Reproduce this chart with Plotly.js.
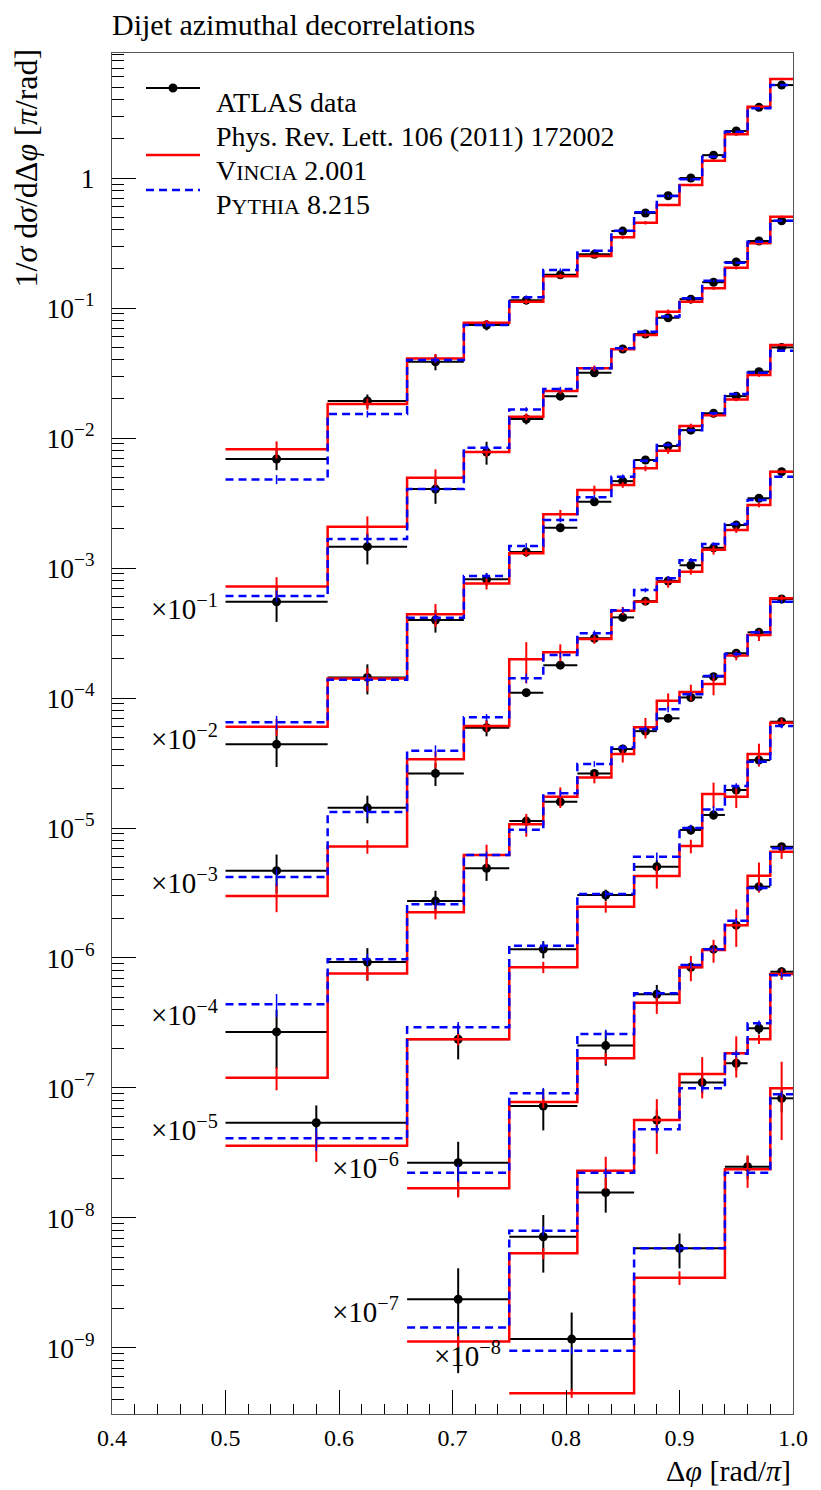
<!DOCTYPE html>
<html>
<head>
<meta charset="utf-8">
<script src="https://cdn.plot.ly/plotly-3.0.1.min.js"></script>
<style>
  html, body { margin: 0; padding: 0; background: #ffffff; }
  #plot { width: 821px; height: 1490px; }
</style>
</head>
<body>
<div id="plot"></div>
<script>
// bin edges in delta phi [rad/pi], one set per pT slice
const edgesFine = [0.5, 0.59, 0.66, 0.71, 0.75, 0.78, 0.81, 0.84, 0.86, 0.88, 0.90, 0.92, 0.94, 0.96, 0.98, 1.0];
const edges6 = [0.5, 0.66, 0.75, 0.81, 0.86, 0.90, 0.92, 0.94, 0.96, 0.98, 1.0];
const edges7 = [0.66, 0.75, 0.81, 0.86, 0.90, 0.92, 0.94, 0.96, 0.98, 1.0];
const edges8 = [0.66, 0.75, 0.81, 0.86, 0.90, 0.94, 0.96, 0.98, 1.0];
const edges9 = [0.75, 0.86, 0.94, 0.98, 1.0];

const scaleFactors = [1, 1e-1, 1e-2, 1e-3, 1e-4, 1e-5, 1e-6, 1e-7, 1e-8];
const scaleLabels = ['', '×10<sup>−1</sup>', '×10<sup>−2</sup>', '×10<sup>−3</sup>', '×10<sup>−4</sup>',
  '×10<sup>−5</sup>', '×10<sup>−6</sup>', '×10<sup>−7</sup>', '×10<sup>−8</sup>'];
const scaleLabelLogY = [0, -3.3, -4.3, -5.41, -6.42, -7.31, -7.6, -8.71, -9.05];

// ATLAS data (unscaled), relative errors
const data1 = [0.0069, 0.0193, 0.0386, 0.074, 0.115, 0.180, 0.259, 0.391, 0.538, 0.731, 1.00, 1.50, 2.30, 3.50, 5.19];
const data2 = [0.0055, 0.0146, 0.0405, 0.078, 0.140, 0.210, 0.318, 0.484, 0.631, 0.842, 1.17, 1.58, 2.26, 3.28, 4.69];
const data3 = [0.0044, 0.0144, 0.0398, 0.082, 0.133, 0.204, 0.323, 0.466, 0.677, 0.868, 1.15, 1.55, 2.10, 3.24, 4.98];
const data4 = [0.0047, 0.0143, 0.0263, 0.059, 0.110, 0.179, 0.288, 0.417, 0.556, 0.794, 1.05, 1.43, 2.14, 3.44, 5.50];
const data5 = [0.0027, 0.0093, 0.0274, 0.049, 0.113, 0.159, 0.263, 0.405, 0.556, 0.698, 1.01, 1.46, 2.21, 3.20, 5.78];
const data6 = [0.0054, 0.0237, 0.117, 0.305, 0.504, 0.966, 1.26, 1.96, 3.33, 6.57];
const data7 = [0.0266, 0.0726, 0.212, 0.526, 0.849, 1.17, 1.79, 3.54, 7.17];
const data8 = [0.0237, 0.0717, 0.157, 0.566, 1.10, 1.55, 2.88, 7.84];
const data9 = [0.117, 0.585, 2.48, 8.33];

const dataErr1 = [0.18, 0.12, 0.14, 0.09, 0.07, 0.06, 0.05, 0.04, 0.04, 0.03, 0.03, 0.03, 0.03, 0.03, 0.03];
const dataErr2 = [0.30, 0.27, 0.23, 0.20, 0.09, 0.07, 0.06, 0.05, 0.04, 0.04, 0.04, 0.03, 0.03, 0.03, 0.03];
const dataErr3 = [0.33, 0.26, 0.20, 0.11, 0.08, 0.07, 0.06, 0.05, 0.05, 0.04, 0.04, 0.04, 0.03, 0.03, 0.03];
const dataErr4 = [0.33, 0.24, 0.20, 0.14, 0.07, 0.06, 0.06, 0.05, 0.05, 0.04, 0.04, 0.04, 0.04, 0.03, 0.03];
const dataErr5 = [0.48, 0.28, 0.20, 0.20, 0.07, 0.06, 0.06, 0.05, 0.05, 0.05, 0.05, 0.05, 0.04, 0.04, 0.04];
const dataErr6 = [0.36, 0.30, 0.15, 0.10, 0.12, 0.08, 0.08, 0.07, 0.06, 0.05];
const dataErr7 = [0.45, 0.35, 0.30, 0.18, 0.10, 0.08, 0.08, 0.06, 0.05];
const dataErr8 = [0.73, 0.47, 0.30, 0.20, 0.18, 0.12, 0.10, 0.08];
const dataErr9 = [0.60, 0.30, 0.20, 0.22];

// Vincia 2.001
const vincia1 = [0.0082, 0.0183, 0.0410, 0.077, 0.112, 0.176, 0.251, 0.350, 0.453, 0.620, 0.883, 1.36, 2.17, 3.54, 5.78];
const vincia2 = [0.0072, 0.0208, 0.0495, 0.078, 0.146, 0.230, 0.344, 0.482, 0.620, 0.937, 1.12, 1.42, 2.04, 3.15, 5.04];
const vincia3 = [0.0060, 0.0141, 0.044, 0.076, 0.130, 0.259, 0.398, 0.436, 0.585, 0.797, 1.24, 1.50, 1.98, 3.05, 5.19];
const vincia4 = [0.0030, 0.0072, 0.0338, 0.061, 0.199, 0.225, 0.284, 0.469, 0.550, 0.784, 0.937, 1.38, 1.96, 3.05, 5.50];
const vincia5 = [0.0012, 0.0076, 0.0225, 0.062, 0.107, 0.174, 0.245, 0.371, 0.595, 0.953, 1.11, 1.28, 2.12, 3.05, 5.85];
const vincia6 = [0.0036, 0.0237, 0.085, 0.248, 0.427, 0.726, 1.83, 1.74, 3.71, 6.45];
const vincia7 = [0.0169, 0.078, 0.169, 0.453, 0.849, 1.15, 1.79, 4.30, 6.57];
const vincia8 = [0.0112, 0.0535, 0.231, 0.566, 1.28, 1.85, 2.37, 7.53];
const vincia9 = [0.0449, 0.347, 2.37, 9.95];

const vinciaErr1 = [0.15, 0.10, 0.08, 0.05, 0.04, 0.04, 0.03, 0.03, 0.03, 0.02, 0.02, 0.02, 0.02, 0.02, 0.02];
const vinciaErr2 = [0.18, 0.20, 0.16, 0.08, 0.06, 0.05, 0.05, 0.04, 0.04, 0.04, 0.03, 0.03, 0.03, 0.02, 0.02];
const vinciaErr3 = [0.15, 0.20, 0.20, 0.10, 0.06, 0.08, 0.08, 0.05, 0.05, 0.05, 0.04, 0.04, 0.03, 0.03, 0.02];
const vinciaErr4 = [0.25, 0.12, 0.15, 0.10, 0.35, 0.15, 0.08, 0.07, 0.06, 0.10, 0.05, 0.08, 0.05, 0.04, 0.03];
const vinciaErr5 = [0.20, 0.12, 0.12, 0.20, 0.20, 0.18, 0.10, 0.14, 0.18, 0.14, 0.14, 0.18, 0.08, 0.10, 0.05];
const vinciaErr6 = [0.25, 0.10, 0.10, 0.10, 0.20, 0.12, 0.22, 0.18, 0.20, 0.08];
const vinciaErr7 = [0.15, 0.10, 0.10, 0.18, 0.22, 0.20, 0.32, 0.26, 0.12];
const vinciaErr8 = [0.10, 0.10, 0.28, 0.45, 0.35, 0.35, 0.08, 0.10];
const vinciaErr9 = [0.08, 0.12, 0.28, 0.60];

// Pythia 8.215
const pythia1 = [0.0048, 0.0153, 0.0398, 0.074, 0.121, 0.196, 0.276, 0.393, 0.545, 0.727, 0.977, 1.46, 2.27, 3.44, 5.19];
const pythia2 = [0.0061, 0.0167, 0.0405, 0.084, 0.166, 0.238, 0.344, 0.490, 0.657, 0.860, 1.19, 1.62, 2.23, 3.24, 4.69];
const pythia3 = [0.0065, 0.0138, 0.0415, 0.087, 0.148, 0.234, 0.350, 0.504, 0.668, 0.883, 1.15, 1.55, 2.18, 3.18, 4.69];
const pythia4 = [0.0042, 0.0133, 0.0393, 0.071, 0.142, 0.214, 0.315, 0.474, 0.677, 0.833, 1.15, 1.53, 2.18, 3.33, 5.04];
const pythia5 = [0.0044, 0.0098, 0.0259, 0.062, 0.097, 0.185, 0.311, 0.417, 0.578, 0.819, 1.07, 1.48, 2.18, 3.20, 5.50];
const pythia6 = [0.0041, 0.0293, 0.124, 0.311, 0.600, 1.00, 1.39, 2.10, 3.24, 6.10];
const pythia7 = [0.0223, 0.091, 0.260, 0.535, 0.883, 1.17, 1.93, 3.45, 6.98];
const pythia8 = [0.0144, 0.0797, 0.223, 0.482, 0.995, 1.83, 3.15, 7.38];
const pythia9 = [0.0953, 0.585, 2.23, 8.94];

const pythiaErr1 = [0.08, 0.06, 0.05, 0.04, 0.03, 0.03, 0.03, 0.03, 0.02, 0.02, 0.02, 0.02, 0.02, 0.02, 0.02];
const pythiaErr2 = [0.10, 0.08, 0.06, 0.05, 0.04, 0.04, 0.03, 0.03, 0.03, 0.03, 0.03, 0.02, 0.02, 0.02, 0.02];
const pythiaErr3 = [0.12, 0.10, 0.06, 0.05, 0.05, 0.04, 0.04, 0.04, 0.03, 0.03, 0.03, 0.03, 0.02, 0.02, 0.02];
const pythiaErr4 = [0.15, 0.10, 0.10, 0.06, 0.08, 0.05, 0.05, 0.05, 0.04, 0.04, 0.04, 0.03, 0.03, 0.03, 0.02];
const pythiaErr5 = [0.20, 0.10, 0.08, 0.06, 0.06, 0.06, 0.05, 0.05, 0.05, 0.05, 0.04, 0.04, 0.04, 0.03, 0.03];
const pythiaErr6 = [0.20, 0.10, 0.08, 0.06, 0.08, 0.06, 0.06, 0.05, 0.05, 0.04];
const pythiaErr7 = [0.15, 0.10, 0.08, 0.07, 0.06, 0.06, 0.05, 0.05, 0.04];
const pythiaErr8 = [0.10, 0.08, 0.08, 0.07, 0.06, 0.06, 0.05, 0.05];
const pythiaErr9 = [0.06, 0.08, 0.06, 0.05];

const slices = [
  { edges: edgesFine, data: data1, dataErr: dataErr1, vincia: vincia1, vinciaErr: vinciaErr1, pythia: pythia1, pythiaErr: pythiaErr1 },
  { edges: edgesFine, data: data2, dataErr: dataErr2, vincia: vincia2, vinciaErr: vinciaErr2, pythia: pythia2, pythiaErr: pythiaErr2 },
  { edges: edgesFine, data: data3, dataErr: dataErr3, vincia: vincia3, vinciaErr: vinciaErr3, pythia: pythia3, pythiaErr: pythiaErr3 },
  { edges: edgesFine, data: data4, dataErr: dataErr4, vincia: vincia4, vinciaErr: vinciaErr4, pythia: pythia4, pythiaErr: pythiaErr4 },
  { edges: edgesFine, data: data5, dataErr: dataErr5, vincia: vincia5, vinciaErr: vinciaErr5, pythia: pythia5, pythiaErr: pythiaErr5 },
  { edges: edges6, data: data6, dataErr: dataErr6, vincia: vincia6, vinciaErr: vinciaErr6, pythia: pythia6, pythiaErr: pythiaErr6 },
  { edges: edges7, data: data7, dataErr: dataErr7, vincia: vincia7, vinciaErr: vinciaErr7, pythia: pythia7, pythiaErr: pythiaErr7 },
  { edges: edges8, data: data8, dataErr: dataErr8, vincia: vincia8, vinciaErr: vinciaErr8, pythia: pythia8, pythiaErr: pythiaErr8 },
  { edges: edges9, data: data9, dataErr: dataErr9, vincia: vincia9, vinciaErr: vinciaErr9, pythia: pythia9, pythiaErr: pythiaErr9 },
];

const serif = 'Liberation Serif, Times New Roman, serif';
const W = 821;
const H = 1490;
const margin = { l: 112, r: 28, t: 53, b: 76 };

function centers(edges) {
  return edges.slice(0, -1).map((e, i) => (e + edges[i + 1]) / 2);
}

function halfWidths(edges) {
  return edges.slice(0, -1).map((e, i) => (edges[i + 1] - e) / 2);
}

function stepTrace(edges, values, line) {
  const y = values.concat([values[values.length - 1]]);
  return { x: edges, y, type: 'scatter', mode: 'lines', line: Object.assign({ shape: 'hv' }, line), hoverinfo: 'skip' };
}

function errTrace(edges, values, rel, color, thickness) {
  return {
    x: centers(edges),
    y: values,
    type: 'scatter',
    mode: 'markers',
    marker: { size: 1, color: 'rgba(0,0,0,0)' },
    error_y: { type: 'data', array: values.map((v, i) => v * rel[i]), width: 0, thickness, color },
    hoverinfo: 'skip',
  };
}

const dataTraces = [];
const vinciaTraces = [];
const pythiaTraces = [];

slices.forEach((s, k) => {
  const f = scaleFactors[k];
  const yd = s.data.map((v) => v * f);
  const yv = s.vincia.map((v) => v * f);
  const yp = s.pythia.map((v) => v * f);

  dataTraces.push({
    x: centers(s.edges),
    y: yd,
    type: 'scatter',
    mode: 'markers',
    marker: { size: 9, color: '#000000' },
    error_x: { type: 'data', array: halfWidths(s.edges), width: 0, thickness: 2, color: '#000000' },
    error_y: { type: 'data', array: yd.map((v, i) => v * s.dataErr[i]), width: 0, thickness: 2, color: '#000000' },
    hoverinfo: 'skip',
  });

  vinciaTraces.push(stepTrace(s.edges, yv, { color: '#ff0000', width: 2.5 }));
  vinciaTraces.push(errTrace(s.edges, yv, s.vinciaErr, '#ff0000', 2));

  pythiaTraces.push(stepTrace(s.edges, yp, { color: '#0000ff', width: 2.5, dash: '8px,5px' }));
  pythiaTraces.push(errTrace(s.edges, yp, s.pythiaErr, '#0000ff', 1.5));
});

// pixel helpers for the hand-drawn legend
const plotW = W - margin.l - margin.r;
const plotH = H - margin.t - margin.b;
const px = (x) => (x - margin.l) / plotW;
const py = (y) => (H - margin.b - y) / plotH;

const annotations = [];

slices.forEach((s, k) => {
  if (!scaleLabels[k]) {
    return;
  }
  annotations.push({
    x: s.edges[0], y: scaleLabelLogY[k], xref: 'x', yref: 'y',
    text: scaleLabels[k], showarrow: false, xanchor: 'right', yanchor: 'middle', xshift: -6,
    font: { family: serif, size: 29, color: '#000000' },
  });
});

const legendText = [
  { text: 'ATLAS data', y: 102 },
  { text: 'Phys. Rev. Lett. 106 (2011) 172002', y: 136 },
  { text: 'V<span style="font-size:22px">INCIA</span> 2.001', y: 170 },
  { text: 'P<span style="font-size:22px">YTHIA</span> 8.215', y: 204 },
];

legendText.forEach((item) => {
  annotations.push({
    x: px(214), y: py(item.y), xref: 'paper', yref: 'paper',
    text: item.text, showarrow: false, xanchor: 'left', yanchor: 'middle',
    font: { family: serif, size: 28, color: '#000000' },
  });
});

annotations.push({
  x: px(26), y: py(47), xref: 'paper', yref: 'paper', textangle: -90,
  text: '1/<i>σ</i> d<i>σ</i>/dΔ<i>φ</i> [<i>π</i>/rad]', showarrow: false,
  xanchor: 'center', yanchor: 'top',
  font: { family: serif, size: 32, color: '#000000' },
});

annotations.push({
  x: 1, y: py(1470), xref: 'paper', yref: 'paper',
  text: 'Δ<i>φ</i> [rad/<i>π</i>]', showarrow: false, xanchor: 'right', yanchor: 'middle',
  font: { family: serif, size: 30, color: '#000000' },
});

const shapes = [
  { type: 'line', xref: 'paper', yref: 'paper', x0: px(146), x1: px(200), y0: py(88), y1: py(88), line: { color: '#000000', width: 2 } },
  { type: 'circle', xref: 'paper', yref: 'paper', xsizemode: 'pixel', ysizemode: 'pixel', xanchor: px(173), yanchor: py(88), x0: -4.5, x1: 4.5, y0: -4.5, y1: 4.5, fillcolor: '#000000', line: { width: 0 } },
  { type: 'line', xref: 'paper', yref: 'paper', x0: px(146), x1: px(200), y0: py(155), y1: py(155), line: { color: '#ff0000', width: 2.5 } },
  { type: 'line', xref: 'paper', yref: 'paper', x0: px(146), x1: px(200), y0: py(190), y1: py(190), line: { color: '#0000ff', width: 2.5, dash: '8px,5px' } },
];

const layout = {
  width: W,
  height: H,
  margin,
  paper_bgcolor: '#ffffff',
  plot_bgcolor: '#ffffff',
  font: { family: serif, size: 24, color: '#000000' },
  showlegend: false,
  title: {
    text: 'Dijet azimuthal decorrelations',
    xref: 'paper', x: 0, xanchor: 'left',
    yref: 'container', y: 1 - 24 / H, yanchor: 'middle',
    font: { family: serif, size: 30, color: '#000000' },
  },
  xaxis: {
    range: [0.4, 1.0],
    tickmode: 'linear', tick0: 0.4, dtick: 0.1, tickformat: '.1f',
    ticks: 'inside', ticklen: 24, tickwidth: 1, tickcolor: '#000000',
    ticklabelstandoff: 2,
    tickfont: { family: serif, size: 24, color: '#000000' },
    minor: { tickmode: 'linear', dtick: 0.02, ticks: 'inside', ticklen: 10, tickwidth: 1, tickcolor: '#000000', showgrid: false },
    showline: true, linecolor: '#555555', linewidth: 1, mirror: true,
    showgrid: false, zeroline: false,
  },
  yaxis: {
    type: 'log',
    range: [-9.508, 0.962],
    tickmode: 'linear', tick0: 0, dtick: 1,
    exponentformat: 'power', showexponent: 'all',
    ticks: 'inside', ticklen: 24, tickwidth: 1, tickcolor: '#000000',
    ticklabelstandoff: 12,
    tickfont: { family: serif, size: 22, color: '#000000' },
    minor: { dtick: 'D1', ticks: 'inside', ticklen: 12, tickwidth: 1, tickcolor: '#000000', showgrid: false },
    showline: true, linecolor: '#555555', linewidth: 1, mirror: true,
    showgrid: false, zeroline: false,
  },
  annotations,
  shapes,
};

Plotly.newPlot('plot', dataTraces.concat(vinciaTraces, pythiaTraces), layout, { displayModeBar: false, staticPlot: true });
</script>
</body>
</html>
